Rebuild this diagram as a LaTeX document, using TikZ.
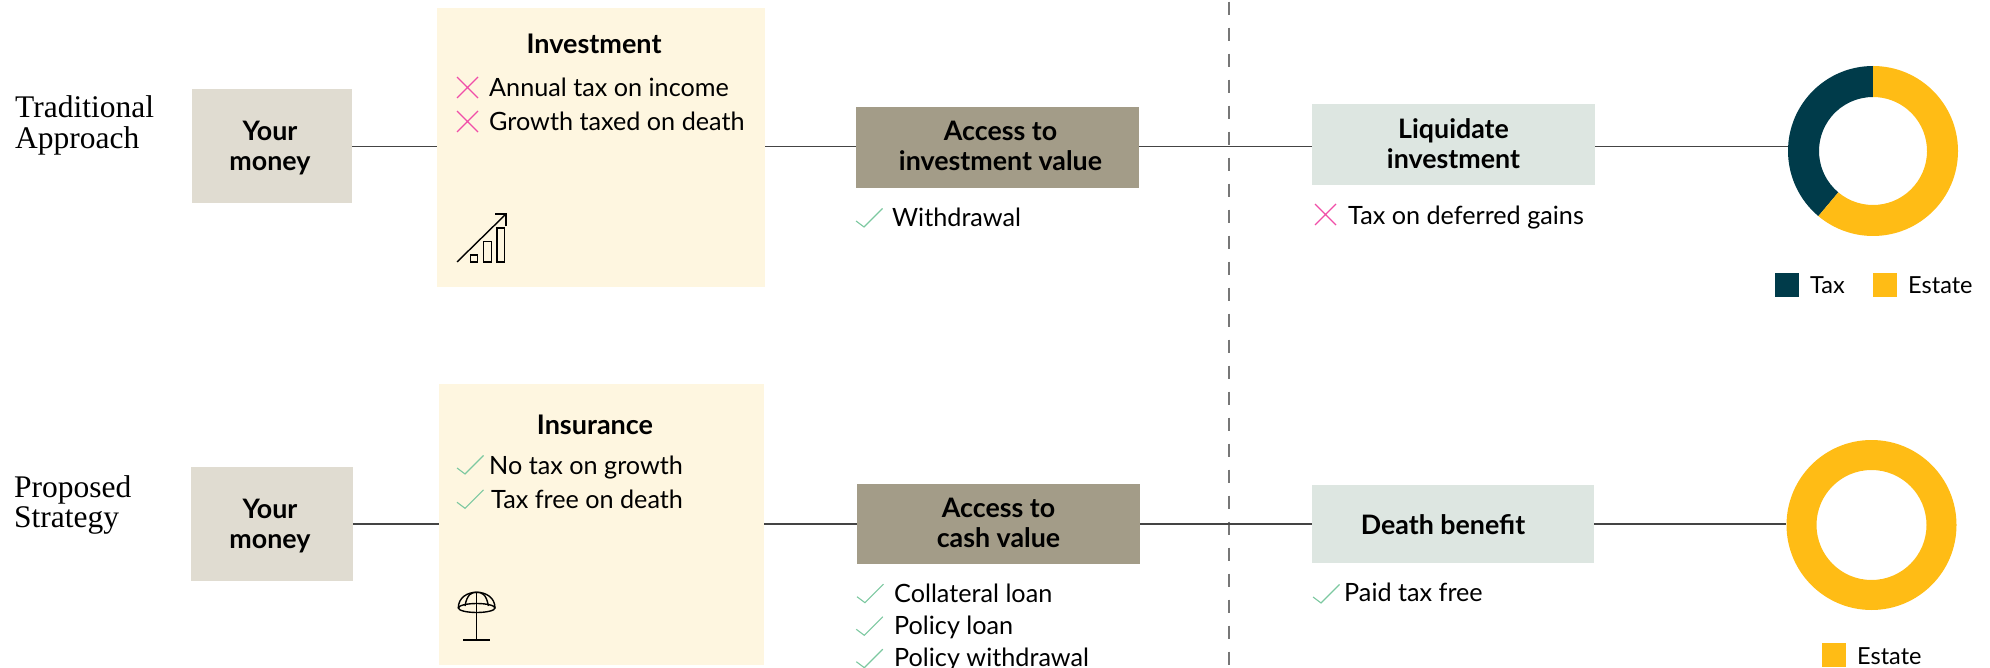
\documentclass[tikz,border=0pt]{standalone}
\usepackage{fontspec}
\setmainfont{Lato}
\newfontfamily\headfont{Liberation Serif}
\usetikzlibrary{shapes, positioning}
\definecolor{creambox}{HTML}{FEF6E0}
\definecolor{tanbox}{HTML}{A39C88}
\definecolor{stonebox}{HTML}{E0DCD1}
\definecolor{mistbox}{HTML}{DDE6E1}
\definecolor{taxblue}{HTML}{003B4A}
\definecolor{estategold}{HTML}{FFBC15}
\definecolor{crosspink}{HTML}{F04EA8}
\definecolor{checkgreen}{HTML}{7CC8A0}
\definecolor{linegrey}{HTML}{444444}
\definecolor{dividergrey}{HTML}{777777}
\tikzset{
    crossmark/.pic = {\draw[crosspink, line width=1.1pt] (0,0) -- (21,21) (0,21) -- (21,0);},
    checkmark/.pic = {\draw[checkgreen, line width=1.1pt] (0,0) -- (8,6) -- (26.5,-12.5);}
}

\begin{document}
\begin{tikzpicture}[x=1pt, y=-1pt,
    box/.style = {inner sep=0pt},
    boxtext/.style = {inner sep=0pt, align=center, font=\fontsize{26.8}{30}\selectfont\bfseries},
    item/.style = {inner sep=0pt, anchor=base west, font=\fontsize{25.2}{30}\selectfont},
    title/.style = {inner sep=0pt, anchor=base, font=\fontsize{27}{30}\selectfont\bfseries},
    head/.style = {inner sep=0pt, anchor=base west, font=\fontsize{31.5}{31}\selectfont\headfont},
    keytext/.style = {inner sep=0pt, anchor=base west, font=\fontsize{23.5}{25}\selectfont},
    link/.style = {line width=1.6pt, linegrey},
    swatch/.style = {inner sep=0pt, minimum size=24pt},
    ring/.style = {circle, inner sep=0pt, minimum size=170pt}]
    \useasboundingbox (0,0) rectangle (1990,668);

    \coordinate (row1) at (0,146.7);
    \coordinate (row2) at (0,524);
    \coordinate (divtop) at (1229,1.7);
    \coordinate (divbot) at (1229,668);

    \node[head] (head1a) at (15,117.5) {Traditional};
    \node[head] (head1b) at (15,148.5) {Approach};
    \node[head] (head2a) at (14,497) {Proposed};
    \node[head] (head2b) at (14,527.5) {Strategy};

    \node[box, fill=stonebox, minimum width=160pt, minimum height=114pt] (money1) at (272,146) {};
    \node[box, fill=creambox, minimum width=328pt, minimum height=279pt] (invest) at (601,147.5) {};
    \node[box, fill=tanbox, minimum width=283pt, minimum height=81pt] (access1) at (997.5,147.5) {};
    \node[box, fill=mistbox, minimum width=283pt, minimum height=81pt] (liquid) at (1453.5,144.5) {};
    \node[ring] (donut1) at (1873,151) {};

    \node[box, fill=stonebox, minimum width=162pt, minimum height=114pt] (money2) at (272,524) {};
    \node[box, fill=creambox, minimum width=325pt, minimum height=281pt] (insure) at (601.5,524.5) {};
    \node[box, fill=tanbox, minimum width=283pt, minimum height=80pt] (access2) at (998.5,524) {};
    \node[box, fill=mistbox, minimum width=282pt, minimum height=78pt] (benefit) at (1453,524) {};
    \node[ring] (donut2) at (1871.5,525) {};

    \node[boxtext, xshift=-2pt, yshift=-2.5pt] (money1text) at (money1) {Your\\money};
    \node[boxtext, xshift=3pt, yshift=2pt] (access1text) at (access1) {Access to\\investment value};
    \node[boxtext, yshift=0.5pt] (liquidtext) at (liquid) {Liquidate\\investment};
    \node[boxtext, xshift=-2pt, yshift=-2.5pt] (money2text) at (money2) {Your\\money};
    \node[boxtext, yshift=1pt] (access2text) at (access2) {Access to\\cash value};
    \node[boxtext, xshift=-10pt, yshift=-1pt] (benefittext) at (benefit) {Death benefit};

    \draw[dividergrey, line width=2pt, dash pattern=on 13pt off 13pt] (divtop) -- (divbot);

    \draw[link] (money1.east |- row1) -- (invest.west |- row1);
    \draw[link] (invest.east |- row1) -- (access1.west |- row1);
    \draw[link] (access1.east |- row1) -- (liquid.west |- row1);
    \draw[link] (liquid.east |- row1) -- (donut1.west |- row1);
    \draw[link, line width=1.3pt] (money2.east |- row2) -- (insure.west |- row2);
    \draw[link, line width=1.3pt] (insure.east |- row2) -- (access2.west |- row2);
    \draw[link, line width=1.3pt] (access2.east |- row2) -- (benefit.west |- row2);
    \draw[link, line width=1.3pt] (benefit.east |- row2) -- (donut2.west |- row2);

    \node[title] (investhead) at (594,54) {Investment};
    \node[item] (annual) at (489,96.2) {Annual tax on income};
    \node[item] (growth) at (489,130.2) {Growth taxed on death};
    \pic at (457,77) {crossmark};
    \pic at (457,111) {crossmark};

    \draw[line width=1.4pt] (457,262) -- (506,214);
    \draw[line width=1.4pt] (495,214) -- (506,214) -- (506,226);
    \draw[line width=1.4pt] (470.3,255) rectangle (477.7,262);
    \draw[line width=1.4pt] (483.7,241.7) rectangle (491.3,262);
    \draw[line width=1.4pt] (497,228) rectangle (504.7,262);

    \node[title] (insurehead) at (595,434) {Insurance};
    \node[item] (notax) at (489,474) {No tax on growth};
    \node[item] (taxfree) at (491,508) {Tax free on death};
    \pic at (457,468) {checkmark};
    \pic at (457,502.3) {checkmark};

    \draw[line width=1.4pt] (458.3,608) .. controls (458.3,587) and (495,587) .. (495,608);
    \draw[line width=1.4pt] (476.7,608) ellipse[x radius=18.3, y radius=4.5];
    \draw[line width=1.4pt] (465,606) .. controls (467,594) and (472,592) .. (476.7,592.3) .. controls (481.4,592) and (486.4,594) .. (488.4,606);
    \draw[line width=1.4pt] (476.7,592.3) -- (476.7,640);
    \draw[line width=1.4pt] (463.3,640) -- (490,640);

    \node[item] (withdraw) at (892,226.5) {Withdrawal};
    \pic at (856,221) {checkmark};
    \node[item] (deferred) at (1348,224.5) {Tax on deferred gains};
    \pic at (1315,204) {crossmark};

    \node[item] (collateral) at (894,602) {Collateral loan};
    \node[item] (polloan) at (894,634.5) {Policy loan};
    \node[item] (polwith) at (894,666) {Policy withdrawal};
    \pic at (857,596.7) {checkmark};
    \pic at (856.3,629.3) {checkmark};
    \pic at (856.3,661.7) {checkmark};
    \node[item] (paid) at (1344,601.5) {Paid tax free};
    \pic at (1313,597) {checkmark};

    \begin{scope}[shift={(donut1.center)}, y=1pt]
        \fill[taxblue] (90:85) arc[start angle=90, end angle=230, radius=85] -- (230:54) arc[start angle=230, end angle=90, radius=54] -- cycle;
        \fill[estategold] (90:85) arc[start angle=90, end angle=-130, radius=85] -- (-130:54) arc[start angle=-130, end angle=90, radius=54] -- cycle;
    \end{scope}
    \begin{scope}[shift={(donut2.center)}, y=1pt]
        \fill[estategold, even odd rule] (0,0) circle[radius=85] (0,0) circle[radius=55];
    \end{scope}

    \node[swatch, fill=taxblue] (taxkey) at (1787,285) {};
    \node[keytext] (taxlabel) at (1810,294) {Tax};
    \node[swatch, fill=estategold] (estatekey1) at (1885,285) {};
    \node[keytext] (estatelabel1) at (1908,294) {Estate};
    \node[swatch, fill=estategold] (estatekey2) at (1834,655) {};
    \node[keytext] (estatelabel2) at (1857,664) {Estate};
\end{tikzpicture}
\end{document}
